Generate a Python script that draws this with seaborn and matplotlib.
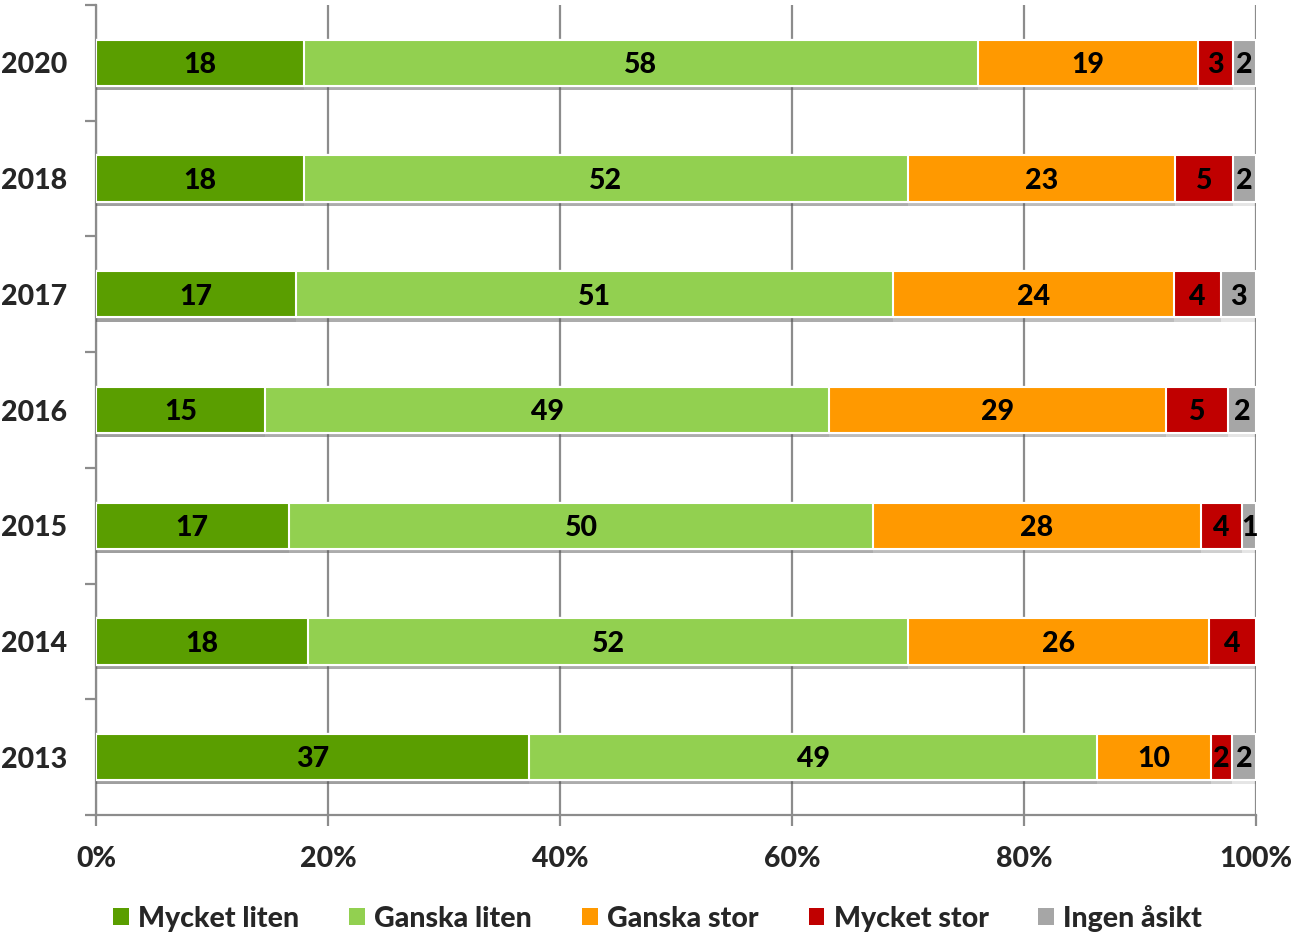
import numpy as np
import pandas as pd
import matplotlib.pyplot as plt
import matplotlib.patheffects as pe
from matplotlib import font_manager
from matplotlib.patches import Patch
from matplotlib.ticker import FixedLocator
import seaborn as sns

years = ['2020', '2018', '2017', '2016', '2015', '2014', '2013']
categories = ['Mycket liten', 'Ganska liten', 'Ganska stor', 'Mycket stor', 'Ingen åsikt']
mycket_liten = [17.9, 17.9, 17.2, 14.6, 16.6, 18.3, 37.3]
ganska_liten = [58.1, 52.1, 51.4, 48.6, 50.4, 51.7, 49.0]
ganska_stor = [19.0, 23.0, 24.2, 29.0, 28.2, 25.9, 9.8]
mycket_stor = [3.0, 5.0, 4.1, 5.4, 3.6, 4.1, 1.8]
ingen_asikt = [2.0, 2.0, 3.0, 2.4, 1.2, 0.0, 2.1]
colors = ['#5A9E00', '#92D050', '#FF9900', '#C00000', '#A6A6A6']

df = pd.DataFrame({'year': years,
                   'Mycket liten': mycket_liten,
                   'Ganska liten': ganska_liten,
                   'Ganska stor': ganska_stor,
                   'Mycket stor': mycket_stor,
                   'Ingen åsikt': ingen_asikt})
vals = df[categories]
pct = vals.div(vals.sum(axis=1), axis=0) * 100
cum = pct.cumsum(axis=1)

# heavy Lato face, closest to the bold Calibri look
lato = {str(f.weight): f.fname for f in font_manager.fontManager.ttflist
        if f.name == 'Lato' and f.style == 'normal'}
fs = 20.5
bold_file = lato.get('800') or lato.get('700')
if bold_file:
    fp = font_manager.FontProperties(fname=bold_file, size=fs)
else:
    fp = font_manager.FontProperties(family='DejaVu Sans', weight='bold', size=fs)

sns.set_style('white')

fig = plt.figure(figsize=(12.95, 9.33), dpi=100)
ax = fig.add_axes([0.0741, 0.1265, 0.8960, 0.8681])

shadow = [pe.SimplePatchShadow(offset=(0, -3), alpha=0.15, shadow_rgbFace='#555555'), pe.Normal()]

# draw cumulative totals from the right-most segment back to the first
for i in range(len(categories) - 1, -1, -1):
    sub = pd.DataFrame({'year': years, 'val': cum[categories[i]].values})
    sns.barplot(data=sub, x='val', y='year', orient='h', order=years,
                color=colors[i], saturation=1, width=0.40,
                edgecolor='white', linewidth=1.5, ax=ax, zorder=3)

for p in ax.patches:
    p.set_path_effects(shadow)

# segment labels
for r, yr in enumerate(years):
    left = 0
    for c in categories:
        w = pct.loc[r, c]
        v = df.loc[r, c]
        if v > 0:
            ax.text(left + w / 2, r + 0.02, f'{v:.0f}', ha='center', va='center',
                    fontproperties=fp, color='black', zorder=5)
        left += w

ax.set_xlim(0, 100)
ax.set_ylim(6.5, -0.5)
ax.set_xticks([0, 20, 40, 60, 80, 100])
ax.set_xticklabels(['0%', '20%', '40%', '60%', '80%', '100%'], fontproperties=fp)
ax.set_yticks(range(len(years)))
ax.set_yticklabels(years, fontproperties=fp)
ax.yaxis.set_minor_locator(FixedLocator(np.arange(-0.5, 7, 1)))
ax.set_xlabel('')
ax.set_ylabel('')

ax.xaxis.grid(True, color='#8C8C8C', linewidth=1.6, zorder=0)
ax.set_axisbelow(True)
for s in ['top', 'right']:
    ax.spines[s].set_visible(False)
for s in ['left', 'bottom']:
    ax.spines[s].set_color('#8C8C8C')
    ax.spines[s].set_linewidth(1.6)

ax.tick_params(axis='x', which='major', direction='out', length=8, width=1.6,
               color='#8C8C8C', pad=14, bottom=True)
ax.tick_params(axis='y', which='major', length=0, pad=21)
ax.tick_params(axis='y', which='minor', direction='out', length=8, width=1.6,
               color='#8C8C8C', left=True)

handles = [Patch(facecolor=c, edgecolor='none') for c in colors]
fig.legend(handles, categories, loc='center', bbox_to_anchor=(0.508, 0.016),
           ncol=5, frameon=False, handlelength=0.56,
           handleheight=0.56, handletextpad=0.32, columnspacing=1.75, prop=fp)

fig.savefig('out.png', dpi=100)
